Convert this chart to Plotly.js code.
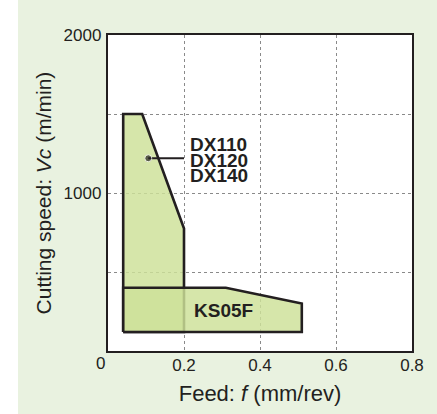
<!DOCTYPE html>
<html>
<head>
<meta charset="utf-8">
<script src="https://cdn.plot.ly/plotly-3.0.1.min.js"></script>
<style>html,body{margin:0;padding:0;background:#fff;}#chart{width:437px;height:414px;}</style>
</head>
<body>
<div id="chart"></div>
<script>
// Data
const dxFeed  = [0.04, 0.04, 0.09, 0.20, 0.20, 0.04];
const dxSpeed = [120, 1500, 1500, 775, 120, 120];
const ksFeed  = [0.04, 0.04, 0.31, 0.51, 0.51, 0.04];
const ksSpeed = [120, 400, 400, 300, 120, 120];
const dxLabels = ["DX110", "DX120", "DX140"];
const dxLabelSpeed = [1308, 1207, 1109];
const dxLabelFeed = 0.212;
const dxPointer = {feed: [0.106, 0.2], speed: [1220, 1220]};
const ksLabel = "KS05F";
const ksLabelPos = {feed: 0.305, speed: 258};
const xTickVals = [0, 0.2, 0.4, 0.6, 0.8];
const xTickText = ["", "0.2", "0.4", "0.6", "0.8"];
const yTickVals = [0, 500, 1000, 1500, 2000];
const yTickText = ["", "", "1000", "", "2000"];
const originLabel = "0";

const ink = "#231f20";
const fill = "rgba(206,225,153,0.83)";
const fam = "Liberation Sans, Arial, sans-serif";

const traces = [
  {x: dxFeed, y: dxSpeed, mode: "lines", fill: "toself", fillcolor: fill,
   line: {color: ink, width: 2.6}, hoverinfo: "skip", showlegend: false},
  {x: ksFeed, y: ksSpeed, mode: "lines", fill: "toself", fillcolor: fill,
   line: {color: ink, width: 2.6}, hoverinfo: "skip", showlegend: false},
  {x: dxPointer.feed, y: dxPointer.speed, mode: "lines+markers",
   line: {color: ink, width: 1.8},
   marker: {color: ink, size: [7, 0]}, hoverinfo: "skip", showlegend: false}
];

const annotations = dxLabels.map((t, i) => ({
  x: dxLabelFeed, y: dxLabelSpeed[i], xref: "x", yref: "y", text: "<b>" + t + "</b>",
  showarrow: false, xanchor: "left", yanchor: "middle", height: 15, borderpad: 0,
  font: {family: fam, size: 19, color: ink}
}));
annotations.push({
  x: ksLabelPos.feed, y: ksLabelPos.speed, xref: "x", yref: "y", text: "<b>" + ksLabel + "</b>",
  showarrow: false, xanchor: "center", yanchor: "middle",
  font: {family: fam, size: 19, color: ink}
});
annotations.push({
  x: -8 / 304, y: -12 / 316, xref: "paper", yref: "paper", text: originLabel, showarrow: false,
  xanchor: "center", yanchor: "middle",
  font: {family: fam, size: 17, color: ink}
});

const layout = {
  width: 437, height: 414,
  margin: {l: 108, r: 25, t: 35, b: 63},
  paper_bgcolor: "#e9f2e0",
  plot_bgcolor: "#ffffff",
  font: {family: fam, color: ink, size: 17},
  xaxis: {
    range: [0, 0.8], tickvals: xTickVals, ticktext: xTickText, ticks: "",
    showgrid: true, gridcolor: "#8a8a8a", griddash: "dot", gridwidth: 1,
    showline: true, mirror: true, linecolor: ink, linewidth: 2.2, zeroline: false,
    tickfont: {size: 17, color: ink}, ticklabelstandoff: -3,
    title: {text: "Feed: <i>f</i> (mm/rev)", font: {size: 22, color: ink}, standoff: 12},
    fixedrange: true
  },
  yaxis: {
    range: [0, 2000], tickvals: yTickVals, ticktext: yTickText, ticks: "",
    showgrid: true, gridcolor: "#8a8a8a", griddash: "dot", gridwidth: 1,
    showline: true, mirror: true, linecolor: ink, linewidth: 2.2, zeroline: false,
    tickfont: {size: 17, color: ink}, ticklabelstandoff: 1,
    title: {text: "Cutting speed: <i>Vc</i> (m/min)", font: {size: 21, color: ink}, standoff: 6},
    fixedrange: true
  },
  annotations: annotations,
  shapes: [
    {type: "rect", xref: "paper", yref: "paper", x0: -108 / 304, x1: -90 / 304,
     y0: -63 / 316, y1: 1 + 35 / 316, fillcolor: "#ffffff", line: {width: 0}, layer: "above"}
  ]
};

Plotly.newPlot("chart", traces, layout, {displayModeBar: false, staticPlot: true});
</script>
</body>
</html>
